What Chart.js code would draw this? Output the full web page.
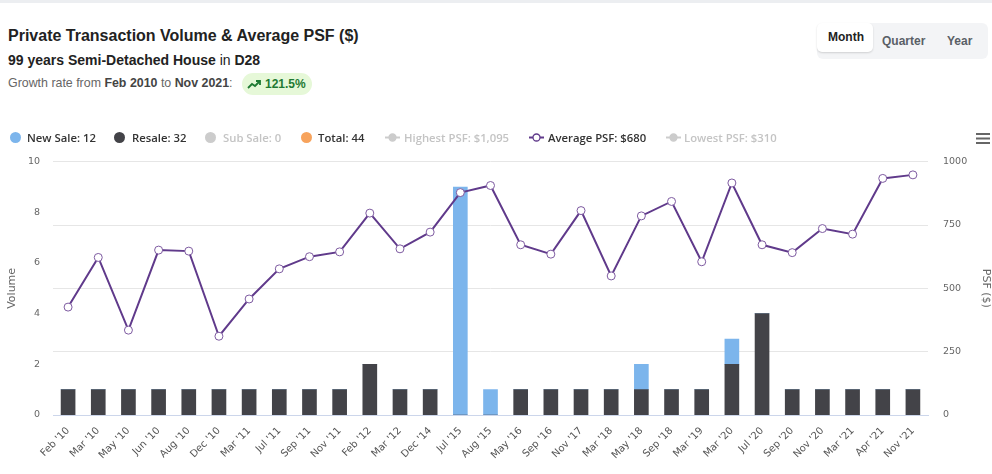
<!DOCTYPE html>
<html>
<head>
<meta charset="utf-8">
<script src="https://cdn.jsdelivr.net/npm/chart.js@4"></script>
<style>
  body { margin: 0; width: 992px; height: 474px; background: #fff; font-family: "Liberation Sans", Arial, sans-serif; position: relative; overflow: hidden; border-top: 3px solid #eceef1; box-sizing: border-box; }
  .abs { position: absolute; white-space: nowrap; }
  #title { left: 8px; top: 24px; font-size: 16px; font-weight: bold; color: #222; }
  #sub { left: 8px; top: 49px; font-size: 14px; font-weight: bold; color: #222; }
  #sub span { font-weight: normal; }
  #growth { left: 8px; top: 73px; font-size: 12.4px; color: #666; }
  #growth b { color: #444; }
  #pill { left: 242px; top: 70px; width: 70px; height: 22px; border-radius: 11px; background: #e6f8d8; color: #1f7a33; font-size: 12px; font-weight: bold; line-height: 22px; }
  #pill svg { position: absolute; left: 5px; top: 6px; }
  #pill span { position: absolute; left: 23px; }
  #toggle { left: 817px; top: 20px; width: 171px; height: 36px; border-radius: 6px; background: #f3f4f6; }
  .btn { position: absolute; font-size: 12px; font-weight: bold; color: #5a5f66; top: 11px; }
  #month { left: 1px; top: 4px; width: 56px; height: 29px; background: #fff; border-radius: 5px; box-shadow: 0 1px 2px rgba(0,0,0,0.15); }
  #month span { position: absolute; left: 11px; top: 7px; color: #222; font-size: 12px; font-weight: bold; }
  .leg { position: absolute; top: 127px; font-family: "Open Sans", sans-serif; font-size: 11.3px; font-weight: 600; color: #333; white-space: nowrap; }
  .leg.off { color: #c4c4c4; }
  .dot { position: absolute; width: 11px; height: 11px; border-radius: 50%; top: 129px; }
  #chartWrap { position: absolute; left: 0; top: 138px; width: 992px; height: 336px; }
</style>
</head>
<body>
<div class="abs" id="title">Private Transaction Volume &amp; Average PSF ($)</div>
<div class="abs" id="sub">99 years Semi-Detached House <span>in</span> D28</div>
<div class="abs" id="growth">Growth rate from <b>Feb 2010</b> to <b>Nov 2021</b>:</div>
<div class="abs" id="pill">
  <svg width="14" height="10" viewBox="0 0 14 10"><polyline points="1,9 5,5 8,7 13,2" fill="none" stroke="#1f7a33" stroke-width="1.8"/><polyline points="9,2 13,2 13,6" fill="none" stroke="#1f7a33" stroke-width="1.8"/></svg>
  <span id="growthVal"></span>
</div>
<div class="abs" id="toggle">
  <div id="month"><span>Month</span></div>
  <div class="btn" style="left:65px">Quarter</div>
  <div class="btn" style="left:130px">Year</div>
</div>

<div id="chartWrap"><canvas id="myChart"></canvas></div>

<div id="legend"></div>
<svg class="abs" style="left:976px;top:129px" width="15" height="13"><rect x="0" y="1" width="14" height="2" fill="#666"/><rect x="0" y="5.5" width="14" height="2" fill="#666"/><rect x="0" y="10" width="14" height="2" fill="#666"/></svg>

<script>
var labels = ["Feb '10", "Mar '10", "May '10", "Jun '10", "Aug '10", "Dec '10", "Mar '11", "Jul '11", "Sep '11", "Nov '11",
              "Feb '12", "Mar '12", "Dec '14", "Jul '15", "Aug '15", "May '16", "Sep '16", "Nov '17", "Mar '18", "May '18",
              "Sep '18", "Mar '19", "Mar '20", "Jul '20", "Sep '20", "Nov '20", "Mar '21", "Apr '21", "Nov '21"];
var resale  = [1, 1, 1, 1, 1, 1, 1, 1, 1, 1, 2, 1, 1, 0, 0, 1, 1, 1, 1, 1, 1, 1, 2, 4, 1, 1, 1, 1, 1];
var newSale = [0, 0, 0, 0, 0, 0, 0, 0, 0, 0, 0, 0, 0, 9, 1, 0, 0, 0, 0, 1, 0, 0, 1, 0, 0, 0, 0, 0, 0];
var avgPsf  = [426, 622, 335, 651, 647, 311, 458, 577, 625, 644, 797, 656, 722, 878, 906, 672, 635, 807, 549, 786,
               843, 605, 916, 672, 641, 736, 714, 934, 948];
var volumeTicks = [0, 2, 4, 6, 8, 10];
var psfTicks = [0, 250, 500, 750, 1000];
var subSaleCount = 0;
var highestPsf = '$1,095';
var averagePsf = '$680';
var lowestPsf = '$310';
var growthRate = '121.5%';

function sum(a) { return a.reduce(function (s, v) { return s + v; }, 0); }

document.getElementById('growthVal').textContent = growthRate;

// legend (html, like the original page)
var legendItems = [
  { x: 10,  tx: 27,  color: '#7cb5ec', text: 'New Sale: ' + sum(newSale) },
  { x: 114, tx: 132, color: '#434348', text: 'Resale: ' + sum(resale) },
  { x: 205, tx: 223, color: '#cccccc', text: 'Sub Sale: ' + subSaleCount, off: true },
  { x: 301, tx: 318, color: '#f7a35c', text: 'Total: ' + (sum(newSale) + sum(resale)) },
  { line: true, x: 385, tx: 404, color: '#cccccc', text: 'Highest PSF: ' + highestPsf, off: true },
  { line: true, x: 529, tx: 548, color: '#603a8b', text: 'Average PSF: ' + averagePsf },
  { line: true, x: 666, tx: 684, color: '#cccccc', text: 'Lowest PSF: ' + lowestPsf, off: true }
];
var lg = document.getElementById('legend');
legendItems.forEach(function (it) {
  if (it.line) {
    var s = document.createElementNS('http://www.w3.org/2000/svg', 'svg');
    s.setAttribute('class', 'abs');
    s.setAttribute('width', '15'); s.setAttribute('height', '11');
    s.style.left = it.x + 'px'; s.style.top = '129px';
    var fill = it.off ? it.color : '#fff';
    s.innerHTML = '<line x1="0" y1="5.5" x2="15" y2="5.5" stroke="' + it.color + '" stroke-width="2"/>' +
                  '<circle cx="7.5" cy="5.5" r="3.5" fill="' + fill + '" stroke="' + it.color + '" stroke-width="1.3"/>';
    lg.appendChild(s);
  } else {
    var d = document.createElement('div');
    d.className = 'dot';
    d.style.left = it.x + 'px';
    d.style.background = it.color;
    lg.appendChild(d);
  }
  var t = document.createElement('div');
  t.className = 'leg' + (it.off ? ' off' : '');
  t.style.left = it.tx + 'px';
  t.textContent = it.text;
  lg.appendChild(t);
});

var tickFont = { family: "'DejaVu Sans', sans-serif", size: 9.5 };

var ctx = document.getElementById('myChart').getContext('2d');
var myChart = new Chart(ctx, {
  type: 'bar',
  data: {
    labels: labels,
    datasets: [{
      type: 'line',
      label: 'Average PSF',
      data: avgPsf,
      yAxisID: 'y1',
      borderColor: '#603a8b',
      borderWidth: 2,
      pointRadius: 4,
      pointBorderWidth: 1,
      pointBackgroundColor: '#fff',
      pointBorderColor: '#7d5aa0',
      tension: 0,
      order: 0
    }, {
      label: 'Resale',
      data: resale,
      backgroundColor: '#434348',
      barThickness: 14,
      order: 1
    }, {
      label: 'New Sale',
      data: newSale,
      backgroundColor: '#7cb5ec',
      barThickness: 14,
      order: 2
    }]
  },
  options: {
    responsive: true,
    maintainAspectRatio: false,
    animation: false,
    layout: { padding: { top: 0, left: 0, right: 0, bottom: 0 } },
    plugins: { legend: { display: false }, tooltip: { enabled: false } },
    scales: {
      x: {
        stacked: true,
        grid: { display: false },
        border: { color: '#ccd6eb' },
        ticks: { maxRotation: 45, minRotation: 45, color: '#555', font: { family: "'DejaVu Sans', sans-serif", size: 10 }, padding: 2 },
        afterFit: function (s) { s.height = 62; }
      },
      y: {
        stacked: true,
        position: 'left',
        min: 0, max: 10,
        afterBuildTicks: function (s) { s.ticks = volumeTicks.map(function (v) { return { value: v }; }); },
        grid: { display: false, drawTicks: false },
        border: { display: false },
        ticks: { color: '#666', font: tickFont, padding: 13 },
        title: { display: true, text: 'Volume', color: '#666', font: { family: "'DejaVu Sans', sans-serif", size: 11 }, padding: { top: 6, bottom: 0 } },
        afterFit: function (s) { s.width = 53; }
      },
      y1: {
        position: 'right',
        min: 0, max: 1000,
        afterBuildTicks: function (s) { s.ticks = psfTicks.map(function (v) { return { value: v }; }); },
        grid: { color: '#e6e6e6', drawTicks: false },
        border: { display: false },
        ticks: { color: '#666', font: tickFont, padding: 15, callback: function (v) { return String(v); } },
        title: { display: true, text: 'PSF ($)', color: '#666', font: { family: "'DejaVu Sans', sans-serif", size: 11 }, padding: { top: 0, bottom: 6 } },
        afterFit: function (s) { s.width = 64; }
      }
    }
  }
});
</script>
</body>
</html>
